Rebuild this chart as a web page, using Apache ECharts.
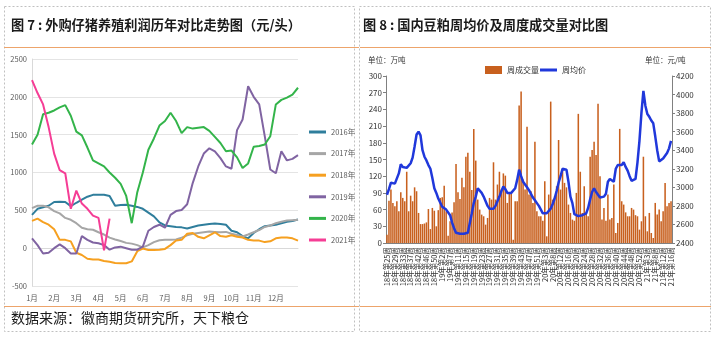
<!DOCTYPE html>
<html><head><meta charset="utf-8">
<script src="https://cdn.jsdelivr.net/npm/echarts@6/dist/echarts.min.js"></script>
<style>html,body{margin:0;padding:0;background:#fff}#c{width:721px;height:338px}</style>
</head><body><div id="c"></div>
<script>
// ---------- Figure 7 data (元/头) ----------
const monthLabels = ['1月','','','','2月','','','','3月','','','','4月','','','','5月','','','','6月','','','',
  '7月','','','','8月','','','','9月','','','','10月','','','','11月','','','','12月','','','',''];
const yearNames = ['2016年','2017年','2018年','2019年','2020年','2021年'];
const profit2016 = [440,520,540,560,610,615,610,555,600,640,680,705,705,705,690,560,570,575,560,545,
  520,470,420,340,300,290,280,275,260,280,300,310,320,325,320,310,230,210,160,130,
  200,250,290,300,310,330,350,360,380];
const profit2017 = [530,560,560,540,490,460,400,375,330,270,250,243,210,180,140,115,95,70,60,40,
  10,40,80,105,110,110,115,140,170,190,200,210,220,215,210,215,190,175,155,180,
  210,240,280,300,330,350,365,370,375];
const profit2018 = [360,390,345,310,250,110,110,90,-60,-90,-140,-150,-150,-170,-180,-195,-200,-200,-175,-40,
  -5,-25,-25,-20,-10,40,100,110,190,200,150,130,170,210,160,150,170,150,140,110,
  100,100,80,90,130,140,140,130,100];
const profit2019 = [130,40,-70,-60,0,50,0,-70,-70,160,110,75,65,40,-20,10,20,0,-20,-20,
  20,230,280,310,270,440,490,505,580,860,1080,1250,1320,1280,1190,1080,1050,1560,1700,2140,
  2000,1900,1480,1040,990,1280,1160,1180,1230];
const profit2020 = [1370,1500,1770,1790,1820,1860,1890,1750,1540,1490,1330,1160,1120,1080,1000,930,850,690,330,740,
  1000,1300,1450,1620,1680,1790,1680,1520,1600,1580,1590,1600,1550,1470,1390,1280,1290,1200,1060,1120,
  1340,1350,1370,1480,1900,1960,1990,2030,2120];
const profit2021 = [2220,2050,1900,1600,1250,1030,990,520,760,590,520,430,400,-30,390];
const yearColors = ['#2F7E9C','#A6A6A6','#F6A020','#8064A2','#33B44A','#F53D95'];

// ---------- Figure 8 data ----------
const weeks2018 = [25,26,27,28,29,30,31,32,33,34,35,36,37,38,39,41,42,43,44,45,46,47,48,49,50,51,52];
const weeks2019 = [1,2,3,4,5,7,8,9,10,11,12,13,14,15,16,17,18,19,20,21,22,23,24,25,26,27,28,29,30,31,32,33,34,35,36,37,38,39,40,41,42,43,44,45,46,47,48,49,50,51,52];
const weeks2020 = [1,2,3,5,6,7,8,9,10,11,12,13,14,15,16,17,18,19,20,21,22,23,24,25,26,27,28,29,30,31,32,33,34,35,36,37,38,39,40,41,42,43,44,45,46,47,48,49,50,51,52,53];
const weeks2021 = [1,2,3,4,5,7,8,9,10,11,12,13,14,15,16];
const weeklyVolume = [15,76,96,72,66,75,57,91,81,75,
  128,57,85,75,100,93,54,34,34,35,
  37,61,25,63,58,30,59,81,82,103,
  57,13,39,55,73,142,91,79,117,100,
  155,162,128,95,205,148,78,60,51,48,
  33,45,81,78,145,78,105,128,96,125,
  121,72,90,90,6,75,75,247,272,114,
  96,209,87,93,72,182,57,48,48,40,
  111,12,87,254,78,84,102,185,96,134,
  108,100,69,54,42,40,90,232,128,54,
  102,55,48,155,167,182,158,250,120,42,
  63,40,87,42,45,105,18,36,205,75,
  69,55,48,48,63,60,50,48,24,39,
  155,48,21,54,18,9,72,51,60,39,
  57,108,66,72,75];
const weeklyPrice = [2920,2980,3050,3060,3040,3050,3150,3250,3220,3200,
  3210,3230,3260,3320,3440,3570,3600,3560,3400,3330,
  3290,3240,3200,3100,2990,2940,2880,2860,2790,2770,
  2760,2750,2700,2620,2560,2510,2520,2500,2480,2500,
  2490,2510,2510,2720,2830,2900,2990,2980,2940,2900,
  2850,2800,2770,2760,2770,2800,2850,2900,2960,3010,
  2980,2940,2930,2940,2950,2990,3080,3190,3120,3060,
  3030,3000,2970,2930,2890,2860,2830,2800,2760,2720,
  2700,2720,2740,2770,2820,2880,2960,3050,3120,3200,
  3210,3190,3060,2900,2830,2710,2700,2690,2700,2700,
  2690,2720,2780,2870,2950,2990,2950,2920,2890,2870,
  2900,2930,3060,3090,3110,3060,3200,3240,3230,3240,
  3270,3220,3180,3120,3070,3060,3090,3270,3500,3800,
  4040,3880,3790,3760,3720,3690,3550,3400,3280,3260,
  3310,3340,3370,3420,3500];

const weekLabels = []
  .concat(weeks2018.map(w => '18年第' + w + '周'))
  .concat(weeks2019.map(w => '19年第' + w + '周'))
  .concat(weeks2020.map(w => '20年第' + w + '周'))
  .concat(weeks2021.map(w => '21年第' + w + '周'));

const FONT = '"Noto Sans CJK SC", "Noto Sans", sans-serif';
const profits = [profit2016, profit2017, profit2018, profit2019, profit2020, profit2021];
const plain = v => String(v);

const leftSeries = profits.map((d, i) => ({
  name: yearNames[i], type: 'line', xAxisIndex: 0, yAxisIndex: 0,
  data: d, showSymbol: false, symbol: 'none',
  lineStyle: { width: 2, color: yearColors[i] }, itemStyle: { color: yearColors[i] }, z: 3 + (i === 5 ? 3 : 0)
}));

const chart = echarts.init(document.getElementById('c'));
chart.setOption({
  animation: false,
  textStyle: { fontFamily: FONT },
  grid: [
    { left: 32, top: 59, width: 266, height: 227 },
    { left: 386, top: 76, width: 286, height: 167 }
  ],
  legend: [
    { data: yearNames, orient: 'vertical', left: 304, top: 121, itemGap: 9.6, itemWidth: 17, itemHeight: 3,
      icon: 'rect', textStyle: { fontSize: 7.5, color: '#595959', lineHeight: 12 } },
    { data: ['周成交量'], left: 480, top: 61, itemWidth: 17, itemHeight: 8, icon: 'rect', itemGap: 0,
      textStyle: { fontSize: 8, color: '#333' } },
    { data: ['周均价'], left: 535, top: 61, itemWidth: 17, itemHeight: 3, icon: 'rect',
      textStyle: { fontSize: 8, color: '#333' } }
  ],
  xAxis: [
    { type: 'category', gridIndex: 0, data: monthLabels, boundaryGap: false,
      axisLine: { lineStyle: { color: '#D9D9D9' } }, axisTick: { show: false },
      axisLabel: { interval: 0, color: '#595959', fontSize: 7.5, margin: 8 } },
    { type: 'category', gridIndex: 1, data: weekLabels,
      axisLine: { lineStyle: { color: '#808080' } }, axisTick: { show: false },
      axisLabel: { interval: 3, rotate: 90, fontSize: 7.5, color: '#333', margin: 4, hideOverlap: false } }
  ],
  yAxis: [
    { type: 'value', gridIndex: 0, min: -500, max: 2500, interval: 500,
      axisLine: { show: true, lineStyle: { color: '#D9D9D9' } }, axisTick: { show: false },
      splitLine: { lineStyle: { color: '#E4E4E4' } },
      axisLabel: { color: '#595959', fontSize: 7.5, margin: 5, formatter: plain } },
    { type: 'value', gridIndex: 1, min: 0, max: 300, interval: 30,
      axisLine: { show: true, lineStyle: { color: '#808080' } },
      axisTick: { show: true, length: 3, lineStyle: { color: '#808080' } },
      splitLine: { show: false },
      axisLabel: { color: '#333', fontSize: 8, margin: 4, formatter: plain } },
    { type: 'value', gridIndex: 1, position: 'right', min: 2400, max: 4200, interval: 200,
      axisLine: { show: true, lineStyle: { color: '#808080' } },
      axisTick: { show: true, length: 3, lineStyle: { color: '#808080' } },
      splitLine: { show: false },
      axisLabel: { color: '#333', fontSize: 8, margin: 4, formatter: plain } }
  ],
  series: leftSeries.concat([
    { name: '周成交量', type: 'bar', xAxisIndex: 1, yAxisIndex: 1, data: weeklyVolume,
      barCategoryGap: '22%', itemStyle: { color: '#C8601E' } },
    { name: '周均价', type: 'line', xAxisIndex: 1, yAxisIndex: 2, data: weeklyPrice,
      showSymbol: false, symbol: 'none', lineStyle: { width: 2.5, color: '#2038DB' },
      itemStyle: { color: '#2038DB' }, z: 5 }
  ]),
  graphic: [
    { type: 'rect', shape: { x: 4.5, y: 6.5, width: 350, height: 325 },
      style: { fill: 'none', stroke: '#C0C0C0', lineWidth: 1, lineDash: [2, 2] } },
    { type: 'rect', shape: { x: 359.5, y: 6.5, width: 351, height: 325 },
      style: { fill: 'none', stroke: '#C0C0C0', lineWidth: 1, lineDash: [2, 2] } },
    { type: 'line', shape: { x1: 4, y1: 47.5, x2: 359, y2: 47.5 }, style: { stroke: '#EDA46B', lineWidth: 1 } },
    { type: 'line', shape: { x1: 360, y1: 47.5, x2: 711, y2: 47.5 }, style: { stroke: '#EDA46B', lineWidth: 1 } },
    { type: 'line', shape: { x1: 4, y1: 306.5, x2: 359, y2: 306.5 }, style: { stroke: '#EDA46B', lineWidth: 1 } },
    { type: 'line', shape: { x1: 360, y1: 306.5, x2: 711, y2: 306.5 }, style: { stroke: '#EDA46B', lineWidth: 1 } },
    { type: 'text', left: 11, top: 18, style: { text: '图 7 : 外购仔猪养殖利润历年对比走势图（元/头）',
      fontSize: 13.2, fontWeight: 'bold', fill: '#1A1A1A', fontFamily: FONT } },
    { type: 'text', left: 363, top: 18, style: { text: '图 8 : 国内豆粕周均价及周度成交量对比图',
      fontSize: 13.2, fontWeight: 'bold', fill: '#1A1A1A', fontFamily: FONT } },
    { type: 'text', left: 11, top: 311, style: { text: '数据来源：徽商期货研究所，天下粮仓',
      fontSize: 14, fill: '#1A1A1A', fontFamily: FONT } },
    { type: 'text', left: 368, top: 56, style: { text: '单位：万吨', fontSize: 7.5, fill: '#333', fontFamily: FONT } },
    { type: 'text', left: 645, top: 56, style: { text: '单位：元/吨', fontSize: 7.5, fill: '#333', fontFamily: FONT } }
  ]
});
</script>
</body></html>
